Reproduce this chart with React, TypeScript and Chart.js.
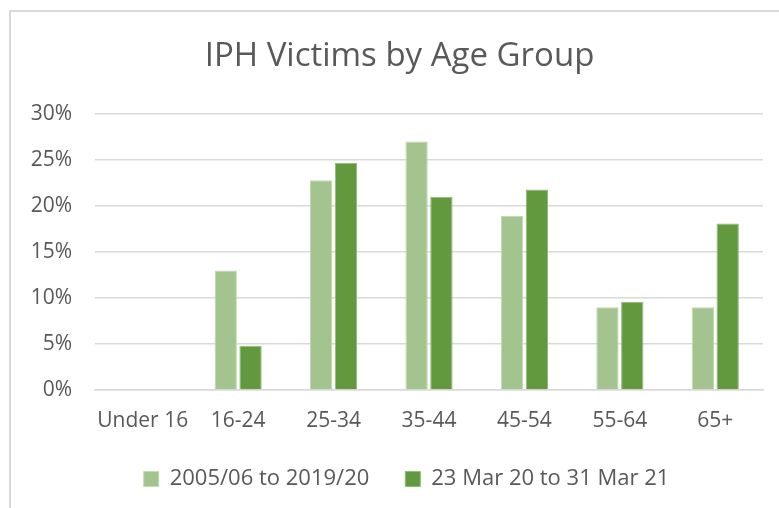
import React, { useEffect, useRef } from "react";
import { Chart, registerables } from "chart.js";

Chart.register(...registerables);

const categories = ["Under 16", "16-24", "25-34", "35-44", "45-54", "55-64", "65+"];
const seriesNames = ["2005/06 to 2019/20", "23 Mar 20 to 31 Mar 21"];
const historic = [0, 13.0, 22.8, 27.0, 18.9, 9.0, 9.0];
const recent = [0, 4.8, 24.7, 21.0, 21.8, 9.6, 18.1];
const yTicks = [0, 5, 10, 15, 20, 25, 30];

const FONT = "'Open Sans', 'Noto Sans', sans-serif";
const TEXT = "#595959";
const GRID = "#d9d9d9";

const layoutTweaks = {
  id: "layoutTweaks",
  beforeInit(chart: any) {
    const legend = chart.legend;
    if (!legend) return;
    const origFit = legend.fit;
    legend.fit = function () {
      origFit.call(this);
      this.height = 76;
    };
  },
  afterLayout(chart: any) {
    const legend = chart.legend;
    if (legend) {
      legend.left += 7;
      legend.right += 7;
    }
    const y = chart.scales.y;
    if (y) y.left = 0;
    const x = chart.scales.x;
    if (x) x.bottom = chart.height;
  },
};

export default function App() {
  const ref = useRef<HTMLCanvasElement | null>(null);

  useEffect(() => {
    document.body.style.margin = "0";
    const canvas = ref.current;
    if (!canvas) return;
    const chart = new Chart(canvas, {
      type: "bar",
      data: {
        labels: categories,
        datasets: [
          {
            label: seriesNames[0],
            data: historic,
            backgroundColor: "#a3c48f",
            borderColor: "#c2dab2",
            borderWidth: 1,
            categoryPercentage: 0.52,
            barPercentage: 0.9,
          },
          {
            label: seriesNames[1],
            data: recent,
            backgroundColor: "#63993e",
            borderColor: "#8fbb74",
            borderWidth: 1,
            categoryPercentage: 0.52,
            barPercentage: 0.9,
          },
        ],
      },
      plugins: [layoutTweaks],
      options: {
        animation: false,
        responsive: false,
        maintainAspectRatio: false,
        layout: { padding: { left: 36, right: 16, top: 0, bottom: 0 } },
        plugins: {
          title: {
            display: true,
            text: "IPH Victims by Age Group",
            color: TEXT,
            font: { family: FONT, size: 33, weight: "normal" },
            padding: { top: 37, bottom: 37.4 },
          },
          legend: {
            display: true,
            position: "bottom",
            labels: {
              color: TEXT,
              font: { family: FONT, size: 22 },
              boxWidth: 15,
              boxHeight: 15,
              padding: 36,
            },
          },
          tooltip: { enabled: false },
        },
        scales: {
          x: {
            afterFit: (scale: any) => {
              scale.height = 42;
            },
            grid: { display: false, drawTicks: false },
            border: { display: true, color: GRID, width: 1.5 },
            ticks: {
              color: TEXT,
              font: { family: FONT, size: 21 },
              padding: 18,
              maxRotation: 0,
              autoSkip: false,
            },
          },
          y: {
            min: 0,
            max: 30,
            afterFit: (scale: any) => {
              scale.width = 59;
            },
            afterBuildTicks: (scale: any) => {
              scale.ticks = yTicks.map((v) => ({ value: v }));
            },
            grid: { color: GRID, lineWidth: 1.5, drawTicks: false },
            border: { display: false },
            ticks: {
              color: TEXT,
              font: { family: FONT, size: 21 },
              padding: 23,
              callback: (v: any) => `${v}%`,
            },
          },
        },
      },
    });
    return () => chart.destroy();
  }, []);

  return (
    <div style={{ position: "relative", width: 779, height: 508, overflow: "hidden", background: "#fff" }}>
      <canvas ref={ref} width={779} height={508} style={{ position: "absolute", left: 0, top: 0 }} />
      <div
        style={{
          position: "absolute",
          left: 9,
          top: 10,
          width: 800,
          height: 520,
          borderLeft: "2px solid #d9d9d9",
          borderTop: "2px solid #d9d9d9",
          pointerEvents: "none",
        }}
      />
    </div>
  );
}
